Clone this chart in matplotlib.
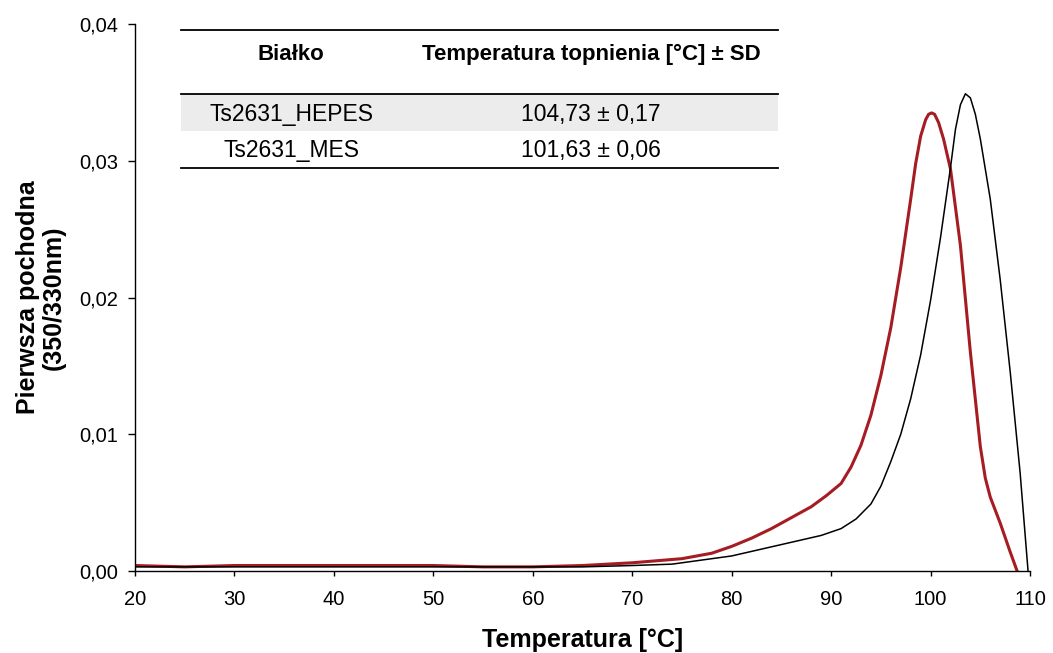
import matplotlib.pyplot as plt
from matplotlib.lines import Line2D
from matplotlib.patches import Rectangle
from matplotlib.ticker import FuncFormatter

plt.rcParams['font.family'] = ['Liberation Sans', 'DejaVu Sans']

# first derivative curves
hepes_t = [20, 25, 30, 40, 50, 60, 65, 70, 74, 77, 80, 83, 86, 89, 91, 92.5, 94, 95,
           96, 97, 98, 99, 100, 101, 102, 102.5, 103, 103.5, 104, 104.5, 105, 106, 107,
           108, 109, 109.8]
hepes_d = [0.0003, 0.0003, 0.0003, 0.0003, 0.0003, 0.0003, 0.0003, 0.0004, 0.0005,
           0.0008, 0.0011, 0.0016, 0.0021, 0.0026, 0.0031, 0.0038, 0.0049, 0.0062,
           0.0080, 0.0100, 0.0126, 0.0158, 0.0198, 0.0244, 0.0295, 0.0323, 0.0341,
           0.0349, 0.0346, 0.0334, 0.0316, 0.0272, 0.0213, 0.0146, 0.0072, 0.0]

mes_t = [20, 25, 30, 35, 40, 45, 50, 55, 60, 65, 70, 75, 78, 80, 82, 84, 86, 88, 89.5,
         91, 92, 93, 94, 95, 96, 97, 98, 98.5, 99, 99.5, 99.8, 100.1, 100.4, 100.8,
         101.3, 102, 103, 104, 105, 105.5, 106, 107, 108, 108.7]
mes_d = [0.0004, 0.0003, 0.0004, 0.0004, 0.0004, 0.0004, 0.0004, 0.0003, 0.0003,
         0.0004, 0.0006, 0.0009, 0.0013, 0.0018, 0.0024, 0.0031, 0.0039, 0.0047,
         0.0055, 0.0064, 0.0076, 0.0092, 0.0114, 0.0143, 0.0178, 0.0222, 0.0272,
         0.0298, 0.0318, 0.0330, 0.0334, 0.0335, 0.0334, 0.0328, 0.0316, 0.0294,
         0.0238, 0.0160, 0.0091, 0.0068, 0.0054, 0.0035, 0.0014, 0.0]

# table
table_header = ['Białko', 'Temperatura topnienia [°C] ± SD']
table_proteins = ['Ts2631_HEPES', 'Ts2631_MES']
table_tm = ['104,73 ± 0,17', '101,63 ± 0,06']

x_ticks = [20, 30, 40, 50, 60, 70, 80, 90, 100, 110]
y_ticks = [0.0, 0.01, 0.02, 0.03, 0.04]

fig = plt.figure(figsize=(10.53, 6.53), dpi=100)
ax = fig.add_axes([0.1282, 0.1256, 0.8500, 0.8376])

ax.plot(hepes_t, hepes_d, color='black', lw=1.1, zorder=3)
ax.plot(mes_t, mes_d, color='#a51c22', lw=2.2, zorder=2)

ax.set_xlim(20, 110)
ax.set_ylim(0, 0.04)
ax.set_xticks(x_ticks)
ax.set_yticks(y_ticks)
ax.yaxis.set_major_formatter(FuncFormatter(lambda v, p: f'{v:.2f}'.replace('.', ',')))
ax.tick_params(direction='out', width=1, labelsize=14.5, colors='black')
ax.tick_params(axis='x', length=3.5, pad=10)
ax.tick_params(axis='y', length=5, pad=7)
for s in ['top', 'right']:
    ax.spines[s].set_visible(False)
for s in ['left', 'bottom']:
    ax.spines[s].set_linewidth(1)

ax.set_xlabel('Temperatura [°C]', fontsize=18, fontweight='bold', labelpad=14)
ax.set_ylabel('Pierwsza pochodna\n(350/330nm)', fontsize=18, fontweight='bold',
              labelpad=10, linespacing=1.05)

# table drawn in figure coordinates
x0, x1 = 181 / 1053, 778 / 1053
fig.patches.append(Rectangle((x0, 1 - 130.5 / 653), x1 - x0, 37 / 653,
                             transform=fig.transFigure, facecolor='#ececec',
                             edgecolor='none', zorder=0))
for yl in [30, 93.5, 168]:
    fig.lines.append(Line2D([x0, x1], [1 - yl / 653, 1 - yl / 653],
                            transform=fig.transFigure, color='black', lw=1.3))
col_x = [291 / 1053, 591 / 1053]
for cx, h in zip(col_x, table_header):
    fig.text(cx, 1 - 60 / 653, h, ha='center', va='baseline', fontsize=16,
             fontweight='bold')
row_y = [1 - 121.5 / 653, 1 - 156.5 / 653]
for ry, p, t in zip(row_y, table_proteins, table_tm):
    fig.text(col_x[0], ry, p, ha='center', va='baseline', fontsize=16.5)
    fig.text(col_x[1], ry, t, ha='center', va='baseline', fontsize=16.5)

fig.savefig('out.png', dpi=100)
